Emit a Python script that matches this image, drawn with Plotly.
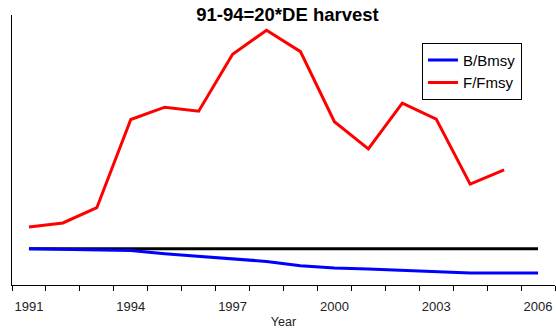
import plotly.graph_objects as go

years = list(range(1991, 2007))
b_bmsy = [1.00, 0.98, 0.98, 0.95, 0.86, 0.79, 0.71, 0.65, 0.53, 0.47, 0.44, 0.40, 0.36, 0.33, 0.33, 0.33]
f_years = list(range(1991, 2006))
f_fmsy = [1.60, 1.71, 2.13, 4.56, 4.90, 4.79, 6.36, 7.02, 6.43, 4.50, 3.75, 5.01, 4.57, 2.78, 3.17]
ref_level = [1.0, 1.0]
ref_years = [1991, 2006]
label_years = [1991, 1994, 1997, 2000, 2003, 2006]

fig = go.Figure()
fig.add_trace(go.Scatter(x=ref_years, y=ref_level, mode="lines",
                         line=dict(color="black", width=3), showlegend=False))
fig.add_trace(go.Scatter(x=years, y=b_bmsy, mode="lines", name="B/Bmsy",
                         line=dict(color="#0000ff", width=3)))
fig.add_trace(go.Scatter(x=f_years, y=f_fmsy, mode="lines", name="F/Fmsy",
                         line=dict(color="#ff0000", width=3)))

fig.update_layout(
    width=556, height=329,
    margin=dict(l=12, r=1, t=15, b=44),
    paper_bgcolor="white", plot_bgcolor="white",
    font=dict(family="Liberation Sans, Arial, sans-serif", color="#111"),
    title=dict(text="<b>91-94=20*DE harvest</b>", x=0.517, xanchor="center",
               y=1 - 15 / 329, yanchor="middle", font=dict(size=18.5, color="black")),
    legend=dict(x=0.755, y=0.897, xanchor="left", yanchor="top",
                bordercolor="black", borderwidth=1, bgcolor="white",
                font=dict(size=15, color="black"), tracegroupgap=0,
                itemwidth=30),
    xaxis=dict(range=[1990.5, 2006.5], showgrid=False, zeroline=False,
               showline=True, linecolor="black", linewidth=1,
               tickvals=label_years, ticks="", ticklabelstandoff=9,
               tickfont=dict(size=13, color="#222"),
               minor=dict(ticks="outside", tick0=1990.5, dtick=1, ticklen=5,
                          tickcolor="black", showgrid=False),
               title=dict(text="Year", font=dict(size=12.5, color="#222"), standoff=5)),
    yaxis=dict(range=[0, 7.44], showgrid=False, zeroline=False,
               showline=True, linecolor="black", linewidth=1,
               showticklabels=False, ticks=""),
)

fig.write_html("out.html")
